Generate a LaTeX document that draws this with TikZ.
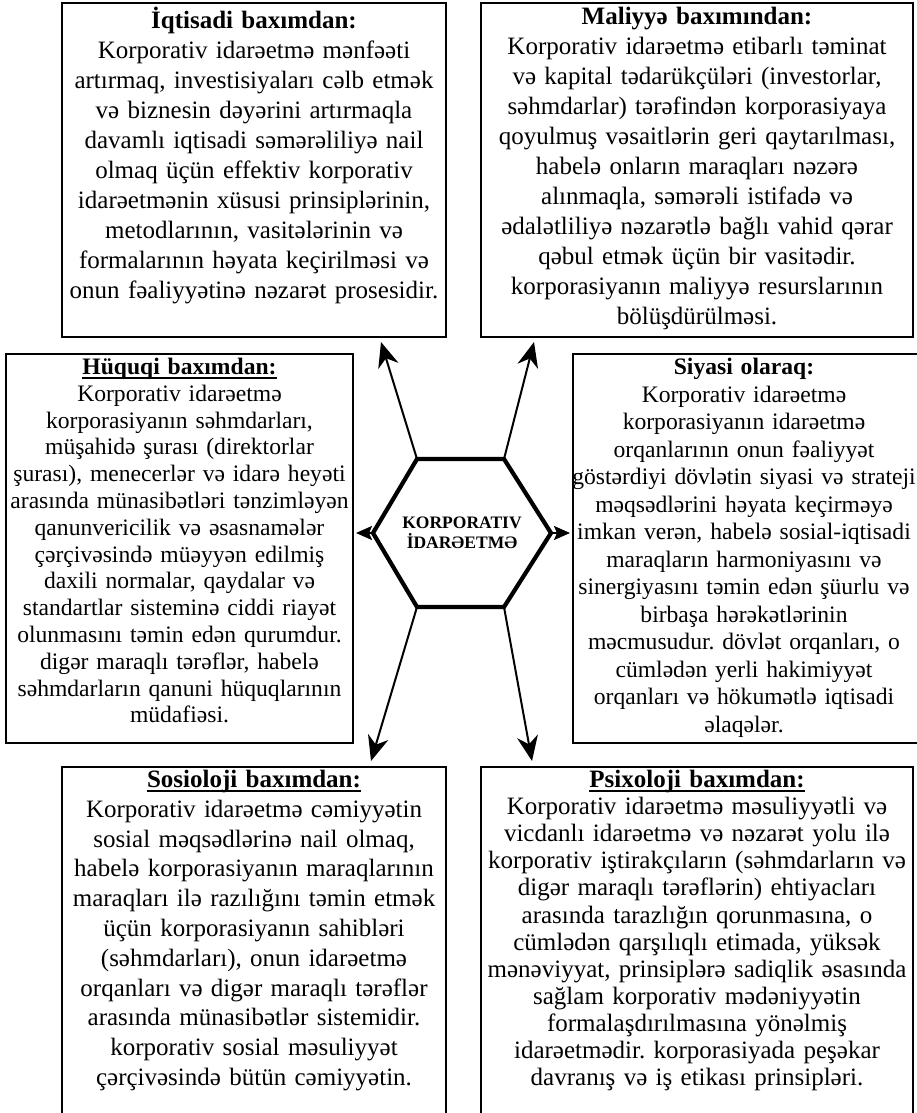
\documentclass[tikz,border=0pt]{standalone}
\usepackage{fontspec}
\setmainfont{Liberation Serif}
\usetikzlibrary{arrows.meta}
\frenchspacing
\newcommand{\ulhead}[1]{\setbox0\hbox{#1}\leavevmode\rlap{\rule[-4.5pt]{\wd0}{1.8pt}}\box0}
\begin{document}
\begin{tikzpicture}[x=1pt,y=-1pt,
  box/.style={draw, line width=2pt, inner sep=0pt},
  txt/.style={anchor=north, align=center, inner sep=0pt},
  arr/.style={line width=2pt, -{Stealth[length=25pt,width=21pt,inset=8pt]}},
  sarr/.style={line width=2pt, -{Stealth[length=16pt,width=14pt,inset=3pt]}},
  hexline/.style={line width=4.2pt, line join=miter}]
\useasboundingbox (0,0) rectangle (917,1113);
\clip (0,0) rectangle (917,1113);
% boxes
\node[box, minimum width=384pt, minimum height=334pt] (tl) at (254,170) {};
\node[box, minimum width=432pt, minimum height=334pt] (tr) at (697,170) {};
\node[box, minimum width=347pt, minimum height=389pt] (ml) at (179.5,548.5) {};
\node[box, minimum width=348pt, minimum height=389pt] (mr) at (747,548.5) {};
\node[box, minimum width=384pt, minimum height=350pt] (bl) at (254,942) {};
\node[box, minimum width=432pt, minimum height=350pt] (br) at (697,942) {};
% texts
\node[txt, text width=392pt, font=\fontsize{25}{30}\selectfont] (tlt) at (254,7) {\textbf{İqtisadi baxımdan:}\\
Korporativ idarəetmə mənfəəti\\
artırmaq, investisiyaları cəlb etmək\\
və biznesin dəyərini artırmaqla\\
davamlı iqtisadi səmərəliliyə nail\\
olmaq üçün effektiv korporativ\\
idarəetmənin xüsusi prinsiplərinin,\\
metodlarının, vasitələrinin və\\
formalarının həyata keçirilməsi və\\
onun fəaliyyətinə nəzarət prosesidir.};
\node[txt, text width=440pt, font=\fontsize{25}{30}\selectfont] (trt) at (697,7) {\textbf{Maliyyə baxımından:}\\
Korporativ idarəetmə etibarlı təminat\\
və kapital tədarükçüləri (investorlar,\\
səhmdarlar) tərəfindən korporasiyaya\\
qoyulmuş vəsaitlərin geri qaytarılması,\\
habelə onların maraqları nəzərə\\
alınmaqla, səmərəli istifadə və\\
ədalətliliyə nəzarətlə bağlı vahid qərar\\
qəbul etmək üçün bir vasitədir.\\
korporasiyanın maliyyə resurslarının\\
bölüşdürülməsi.};
\node[txt, text width=400pt, font=\fontsize{23.6}{26.8}\selectfont] (mlt) at (179.5,358) {\textbf{\ulhead{Hüquqi baxımdan:}}\\
Korporativ idarəetmə\\
korporasiyanın səhmdarları,\\
müşahidə şurası (direktorlar\\
şurası), menecerlər və idarə heyəti\\
arasında münasibətləri tənzimləyən\\
qanunvericilik və əsasnamələr\\
çərçivəsində müəyyən edilmiş\\
daxili normalar, qaydalar və\\
standartlar sisteminə ciddi riayət\\
olunmasını təmin edən qurumdur.\\
digər maraqlı tərəflər, habelə\\
səhmdarların qanuni hüquqlarının\\
müdafiəsi.};
\node[txt, text width=400pt, font=\fontsize{23.6}{27.5}\selectfont] (mrt) at (744,358) {\textbf{Siyasi olaraq:}\\
Korporativ idarəetmə\\
korporasiyanın idarəetmə\\
orqanlarının onun fəaliyyət\\
göstərdiyi dövlətin siyasi və strateji\\
məqsədlərini həyata keçirməyə\\
imkan verən, habelə sosial-iqtisadi\\
maraqların harmoniyasını və\\
sinergiyasını təmin edən şüurlu və\\
birbaşa hərəkətlərinin\\
məcmusudur. dövlət orqanları, o\\
cümlədən yerli hakimiyyət\\
orqanları və hökumətlə iqtisadi\\
əlaqələr.};
\node[txt, text width=392pt, font=\fontsize{25}{29.8}\selectfont] (blt) at (254,770) {\textbf{\ulhead{Sosioloji baxımdan:}}\\
Korporativ idarəetmə cəmiyyətin\\
sosial məqsədlərinə nail olmaq,\\
habelə korporasiyanın maraqlarının\\
maraqları ilə razılığını təmin etmək\\
üçün korporasiyanın sahibləri\\
(səhmdarları), onun idarəetmə\\
orqanları və digər maraqlı tərəflər\\
arasında münasibətlər sistemidir.\\
korporativ sosial məsuliyyət\\
çərçivəsində bütün cəmiyyətin.};
\node[txt, text width=440pt, font=\fontsize{25}{27.1}\selectfont] (brt) at (697,770) {\textbf{\ulhead{Psixoloji baxımdan:}}\\
Korporativ idarəetmə məsuliyyətli və\\
vicdanlı idarəetmə və nəzarət yolu ilə\\
korporativ iştirakçıların (səhmdarların və\\
digər maraqlı tərəflərin) ehtiyacları\\
arasında tarazlığın qorunmasına, o\\
cümlədən qarşılıqlı etimada, yüksək\\
mənəviyyat, prinsiplərə sadiqlik əsasında\\
sağlam korporativ mədəniyyətin\\
formalaşdırılmasına yönəlmiş\\
idarəetmədir. korporasiyada peşəkar\\
davranış və iş etikası prinsipləri.};
% hexagon
\coordinate (h1) at (417,459);
\coordinate (h2) at (504,459);
\coordinate (h3) at (551,533);
\coordinate (h4) at (504,607);
\coordinate (h5) at (417,607);
\coordinate (h6) at (373,533);
\draw[hexline] (h1) -- (h2) -- (h3) -- (h4) -- (h5) -- (h6) -- cycle;
\node[align=center, inner sep=0pt, font=\fontsize{17.5}{20}\selectfont\bfseries] (hex) at (462,533) {KORPORATIV\\İDARƏETMƏ};
% arrow ends on box borders
\coordinate (etl) at ([xshift=320pt,yshift=-4pt]tl.south west);
\coordinate (etr) at ([xshift=54pt,yshift=-4pt]tr.south west);
\coordinate (eml) at ([xshift=2pt]ml.east |- hex);
\coordinate (emr) at ([xshift=-2pt]mr.west |- hex);
\coordinate (ebl) at ([xshift=310pt,yshift=5pt]bl.north west);
\coordinate (ebr) at ([xshift=52pt,yshift=5pt]br.north west);
\draw[arr] (h1) -- (etl);
\draw[arr] (h2) -- (etr);
\draw[sarr] (h6) -- (eml);
\draw[sarr] (h3) -- (emr);
\draw[arr] (h5) -- (ebl);
\draw[arr] (h4) -- (ebr);
\end{tikzpicture}
\end{document}
